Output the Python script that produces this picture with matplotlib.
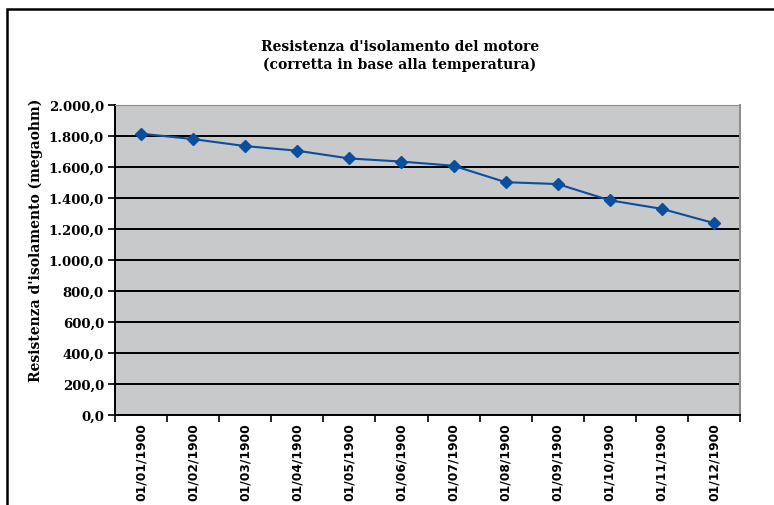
import matplotlib.pyplot as plt
from matplotlib.patches import Rectangle
from matplotlib.ticker import FuncFormatter, MultipleLocator
import numpy as np

dates = ['01/01/1900', '01/02/1900', '01/03/1900', '01/04/1900',
         '01/05/1900', '01/06/1900', '01/07/1900', '01/08/1900',
         '01/09/1900', '01/10/1900', '01/11/1900', '01/12/1900']
resistenza = [1815, 1780, 1735, 1705, 1655, 1635, 1608, 1502,
              1490, 1385, 1330, 1238]


def fmt_it(v, pos):
    # 1800 -> "1.800,0"
    s = '{:,.1f}'.format(v)
    return s.replace(',', 'X').replace('.', ',').replace('X', '.')


fig = plt.figure(figsize=(7.74, 5.06), dpi=100)
ax = fig.add_axes([115 / 774, 1 - 416 / 506, 625 / 774, 310 / 506])

x = np.arange(len(dates))
ax.plot(x, resistenza, color='#0B4F9C', lw=1.5, marker='D', ms=6,
        mec='#0B4F9C', mfc='#0B4F9C', zorder=3)

ax.set_facecolor('#C8C9CB')
ax.set_xlim(-0.5, len(dates) - 0.5)
ax.set_ylim(0, 2000)
ax.yaxis.set_major_locator(MultipleLocator(200))
ax.yaxis.set_major_formatter(FuncFormatter(fmt_it))
ax.grid(axis='y', color='black', lw=1.4)
ax.set_axisbelow(True)

# category ticks sit between the points
ax.set_xticks(np.arange(-0.5, len(dates)), minor=False)
ax.set_xticklabels([])
ax.set_xticks(x, minor=True)
ax.set_xticklabels(dates, minor=True, rotation=90, fontsize=8.8,
                   fontweight='bold', family='DejaVu Sans')
ax.tick_params(axis='x', which='major', length=5, width=1.2, direction='out')
ax.tick_params(axis='x', which='minor', length=0, pad=5)
ax.tick_params(axis='y', length=5, width=1.2, pad=3)
for lab in ax.get_yticklabels():
    lab.set_family('DejaVu Serif')
    lab.set_fontweight('bold')
    lab.set_fontsize(9.5)

for side in ['left', 'bottom']:
    ax.spines[side].set_color('black')
    ax.spines[side].set_linewidth(1.4)
ax.spines['top'].set_color('#8E8E8E')
ax.spines['right'].set_color('#8E8E8E')
ax.spines['right'].set_linewidth(1.5)

ax.set_ylabel("Resistenza d'isolamento (megaohm)", family='DejaVu Serif',
              fontweight='bold', fontsize=10)
ax.yaxis.set_label_coords(-72 / 625, 1 - (240 - 106) / 310)

fig.text(400 / 774, 1 - 56 / 506,
         "Resistenza d'isolamento del motore\n(corretta in base alla temperatura)",
         ha='center', va='center', family='DejaVu Serif', fontweight='bold',
         fontsize=10, linespacing=1.3)

# outer frame, running off the right and bottom edges
fig.patches.append(Rectangle((7 / 774, -0.1), 1.2, 1 - 10 / 506 + 0.1,
                             transform=fig.transFigure, fill=False,
                             ec='black', lw=1.8, clip_on=False))

plt.savefig('out.png', dpi=100)
